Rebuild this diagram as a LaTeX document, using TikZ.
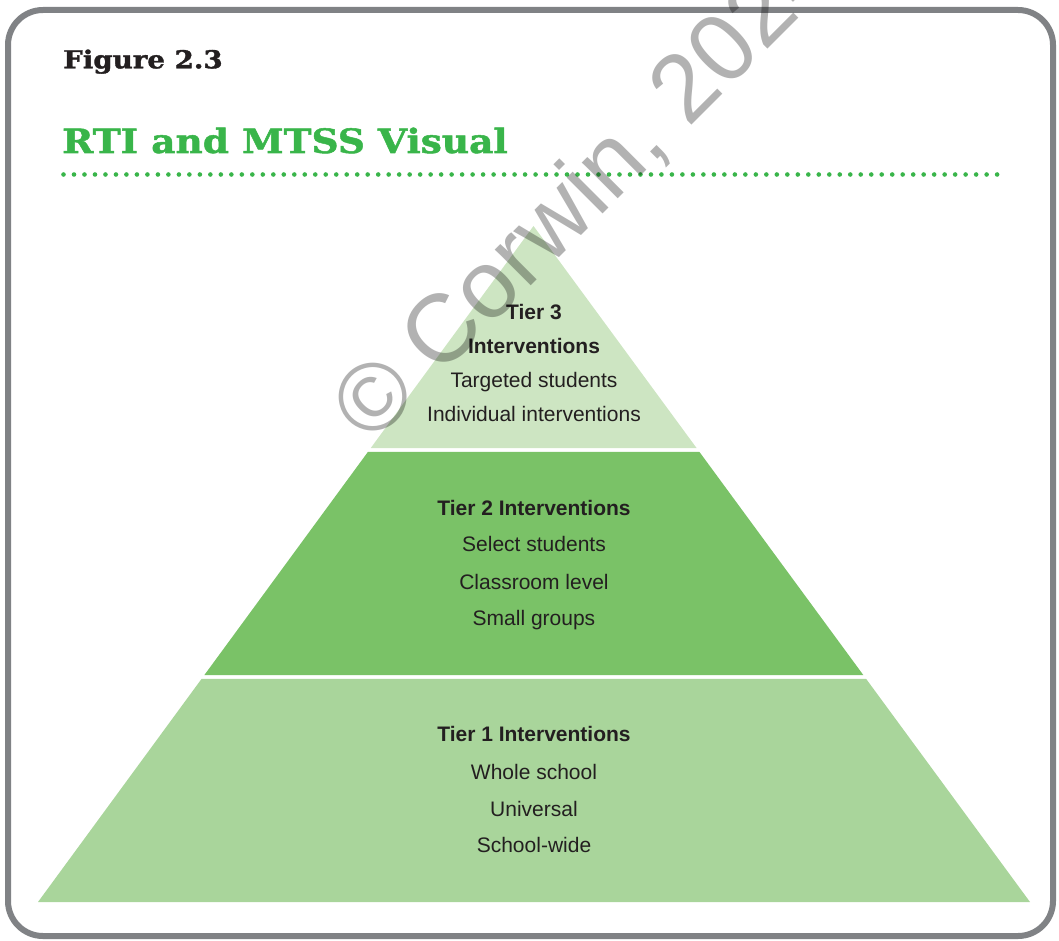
\documentclass[tikz,border=0pt]{standalone}
\usepackage{fontspec}
\setmainfont{Liberation Sans}
\newfontfamily\slabfont{DejaVu Serif Bold}[FakeStretch=1.12,FakeBold=1.5]
\usetikzlibrary{calc}
\definecolor{framegray}{RGB}{128,130,133}
\definecolor{titlegreen}{RGB}{57,181,74}
\definecolor{tierthree}{RGB}{205,229,194}
\definecolor{tiertwo}{RGB}{122,194,103}
\definecolor{tierone}{RGB}{169,213,155}
\definecolor{ink}{RGB}{35,31,32}
\begin{document}
\begin{tikzpicture}[x=1pt,y=-1pt,
  tierline/.style={text=ink, anchor=base, inner sep=0pt, font=\fontsize{21}{21}\selectfont},
  tierhead/.style={tierline, font=\fontsize{21}{21}\selectfont\bfseries},
  slabtext/.style={anchor=base west, inner sep=0pt, font=\slabfont\fontsize{#1}{#1}\selectfont},
]
\useasboundingbox (0,0) rectangle (1059,941);

% outer frame
\draw[framegray, line width=6pt, rounded corners=35pt] (8,10) rectangle (1053,936);

% headings
\node[slabtext=24.7, text=ink] (fig) at (63,68.3) {Figure 2.3};
\node[slabtext=33.5, text=titlegreen] (title) at (62,153) {RTI and MTSS Visual};

% dotted rule under the title
\foreach \i in {0,...,89}
  \fill[titlegreen] ({63.5+\i*10.49},174.5) circle (2.3pt);

% pyramid
\coordinate (apex) at (533.5,226);
\coordinate (bl) at (38,902);
\coordinate (br) at (1030,902);
\fill[tierthree] (apex) -- ($(apex)!0.3284!(br)$) -- ($(apex)!0.3284!(bl)$) -- cycle;
\fill[tiertwo] ($(apex)!0.3343!(bl)$) -- ($(apex)!0.3343!(br)$)
  -- ($(apex)!0.6642!(br)$) -- ($(apex)!0.6642!(bl)$) -- cycle;
\fill[tierone] ($(apex)!0.6701!(bl)$) -- ($(apex)!0.6701!(br)$)
  -- (br) -- (bl) -- cycle;

% tier 3 text
\node[tierhead] (t3a) at (534,319.3) {Tier 3};
\node[tierhead] (t3b) at (534,353.3) {Interventions};
\node[tierline] (t3c) at (534,387.5) {Targeted students};
\node[tierline] (t3d) at (534,421.7) {Individual interventions};

% tier 2 text
\node[tierhead] (t2a) at (534,515) {Tier 2 Interventions};
\node[tierline] (t2b) at (534,551.7) {Select students};
\node[tierline] (t2c) at (534,589) {Classroom level};
\node[tierline] (t2d) at (534,625) {Small groups};

% tier 1 text
\node[tierhead] (t1a) at (534,741.7) {Tier 1 Interventions};
\node[tierline] (t1b) at (534,779) {Whole school};
\node[tierline] (t1c) at (534,816) {Universal};
\node[tierline] (t1d) at (534,852.7) {School-wide};

% copyright mark across the figure
\begin{scope}
  \clip (0,0) rectangle (1059,941);
  \node[rotate=45, anchor=base west, inner sep=0pt, text=black, text opacity=0.3,
        font=\fontsize{96}{96}\selectfont] (mark) at (371,446) {© Corwin, 2024};
\end{scope}
\end{tikzpicture}
\end{document}
